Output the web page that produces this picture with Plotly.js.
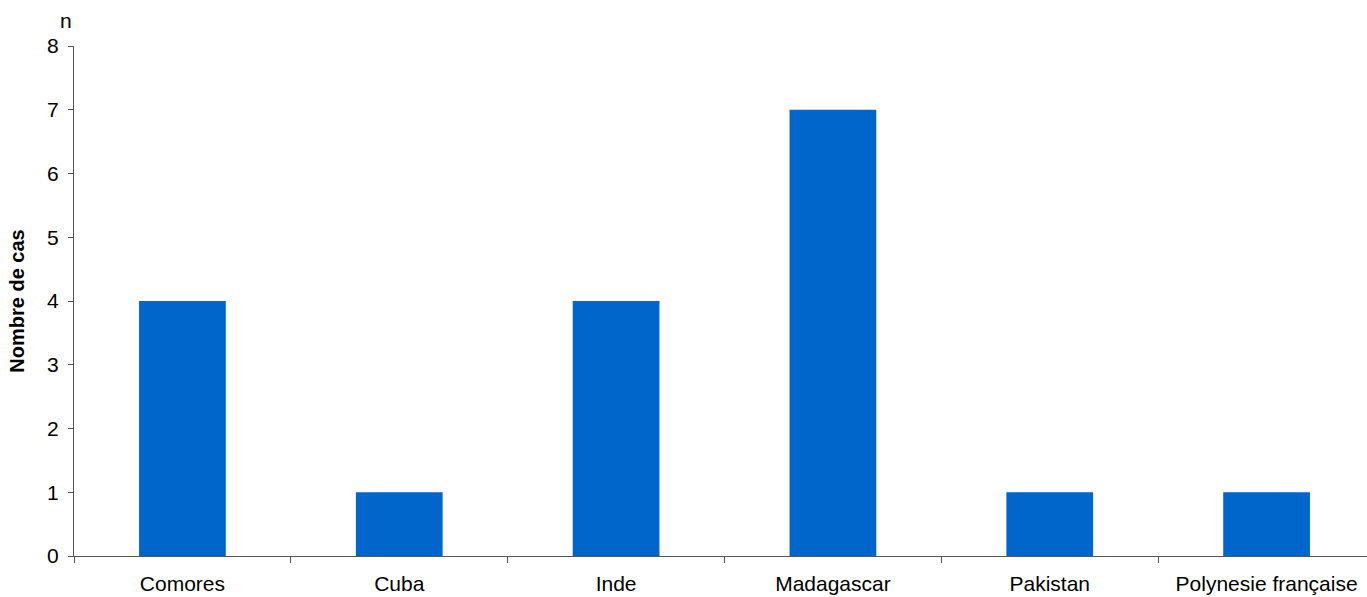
<!DOCTYPE html>
<html><head><meta charset="utf-8">
<script src="https://cdn.plot.ly/plotly-3.0.1.min.js"></script>
<style>html,body{margin:0;padding:0;overflow:hidden;background:#fff}</style>
</head><body>
<div id="chart" style="width:1376px;height:597px"></div>
<script>
var categories = ["Comores", "Cuba", "Inde", "Madagascar", "Pakistan", "Polynesie française"];
var cases = [4, 1, 4, 7, 1, 1];
var yTicks = [0, 1, 2, 3, 4, 5, 6, 7, 8];

var trace = {
  type: "bar",
  x: categories,
  y: cases,
  width: 0.4,
  marker: {color: "#0066CC", line: {width: 0}},
  hoverinfo: "x+y"
};
var font = {family: "Liberation Sans, Arial, sans-serif", size: 20, color: "#000"};
var tickFont = {family: "Liberation Sans, Arial, sans-serif", size: 21, color: "#000"};
var layout = {
  width: 1376, height: 597,
  margin: {l: 74, r: 1, t: 46, b: 41},
  paper_bgcolor: "#fff", plot_bgcolor: "#fff",
  font: font,
  showlegend: false,
  bargap: 0.6,
  xaxis: {
    type: "category",
    tickson: "boundaries",
    ticks: "outside", ticklen: 6, tickcolor: "#555", tickwidth: 1,
    showline: true, linecolor: "#555", linewidth: 1,
    showgrid: false, zeroline: false,
    tickfont: tickFont, automargin: false,
    ticklabelstandoff: 9
  },
  yaxis: {
    range: [0, 8],
    tickvals: yTicks,
    ticks: "outside", ticklen: 5, tickcolor: "#555", tickwidth: 1,
    showline: true, linecolor: "#555", linewidth: 1,
    showgrid: false, zeroline: false,
    tickfont: tickFont, automargin: false,
    ticklabelstandoff: 5,
    title: {text: "<b>Nombre de cas</b>", font: font, standoff: 17}
  },
  annotations: [{
    text: "n", xref: "paper", yref: "paper", x: 0, y: 1,
    xanchor: "right", yanchor: "bottom", xshift: 0, yshift: 12,
    showarrow: false, font: tickFont
  }]
};
Plotly.newPlot("chart", [trace], layout, {displayModeBar: false, staticPlot: true});
</script>
</body></html>
